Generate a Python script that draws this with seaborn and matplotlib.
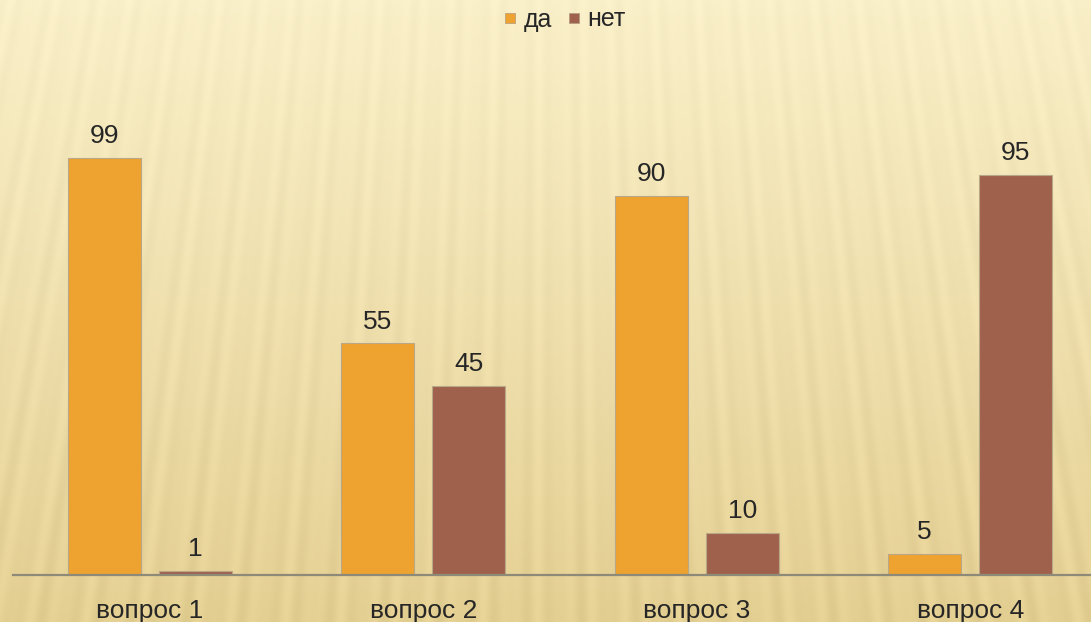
import numpy as np
import pandas as pd
import matplotlib
matplotlib.use("Agg")
import matplotlib.pyplot as plt
import seaborn as sns
from matplotlib.lines import Line2D

# ---- data ----
questions = ["вопрос 1", "вопрос 2", "вопрос 3", "вопрос 4"]
series_names = ["да", "нет"]
yes_values = [99, 55, 90, 5]
no_values = [1, 45, 10, 95]

colors = ["#EEA22F", "#A0614C"]

df = pd.DataFrame({
    "q": questions * 2,
    "ans": [series_names[0]] * 4 + [series_names[1]] * 4,
    "v": yes_values + no_values,
})

sns.set_style("white")
plt.rcParams["font.family"] = ["Liberation Sans", "DejaVu Sans"]

W, H = 1091, 622
fig = plt.figure(figsize=(W / 100, H / 100), dpi=100)

# ---- decorative sunburst background ----
yy, xx = np.mgrid[0:H, 0:W].astype(float)
cx, cy = 545.0, -2600.0
ang = np.arctan2(xx - cx, yy - cy)
stripe = 0.6 * np.sin(ang * 720) + 0.4 * np.sin(ang * 1130 + 1.3)
t = yy / H
top = np.array([252, 242, 203]) / 255.0
bot = np.array([234, 213, 152]) / 255.0
base = top[None, None, :] * (1 - t[..., None]) + bot[None, None, :] * t[..., None]
amp = (0.018 + 0.02 * t)[..., None]
img = np.clip(base - amp * (stripe[..., None] + 1) * 0.6, 0, 1)
bg = fig.add_axes([0, 0, 1, 1], zorder=-10)
bg.imshow(img, aspect="auto", extent=[0, 1, 0, 1], origin="upper")
bg.set_axis_off()

# ---- chart ----
axis_y = 575
px_per_unit = 4.21
ymax = 120
ax = fig.add_axes([13 / W, (H - axis_y) / H, 1094 / W, ymax * px_per_unit / H])
ax.patch.set_alpha(0)

sns.barplot(data=df, x="q", y="v", hue="ans", palette=colors, width=0.666,
            gap=0.2, edgecolor="#B8A888", linewidth=0.8, ax=ax,
            legend=False, saturation=1)

ax.set_ylim(0, ymax)
ax.set_xlim(-0.5, 3.5)
for c in ax.containers:
    ax.bar_label(c, fmt="%d", padding=7, fontsize=19, color="#262626")

for s in ["top", "left", "right"]:
    ax.spines[s].set_visible(False)
ax.spines["bottom"].set_color("#8E8A7A")
ax.spines["bottom"].set_linewidth(1.6)
ax.set_yticks([])
ax.set_xlabel("")
ax.set_ylabel("")
ax.tick_params(axis="x", length=0, pad=17, labelsize=19, labelcolor="#262626")

handles = [Line2D([], [], marker="s", linestyle="none", markersize=7.5,
                  markerfacecolor=c, markeredgecolor="#B09A80",
                  markeredgewidth=0.5) for c in colors]
fig.legend(handles, series_names, loc="upper center",
           bbox_to_anchor=(565 / W, 1.0 + 10 / H), frameon=False, ncol=2,
           fontsize=18, handlelength=0.5, handletextpad=0.3,
           columnspacing=0.6, labelcolor="#262626", borderaxespad=0.3)

fig.savefig("out.png", dpi=100)
